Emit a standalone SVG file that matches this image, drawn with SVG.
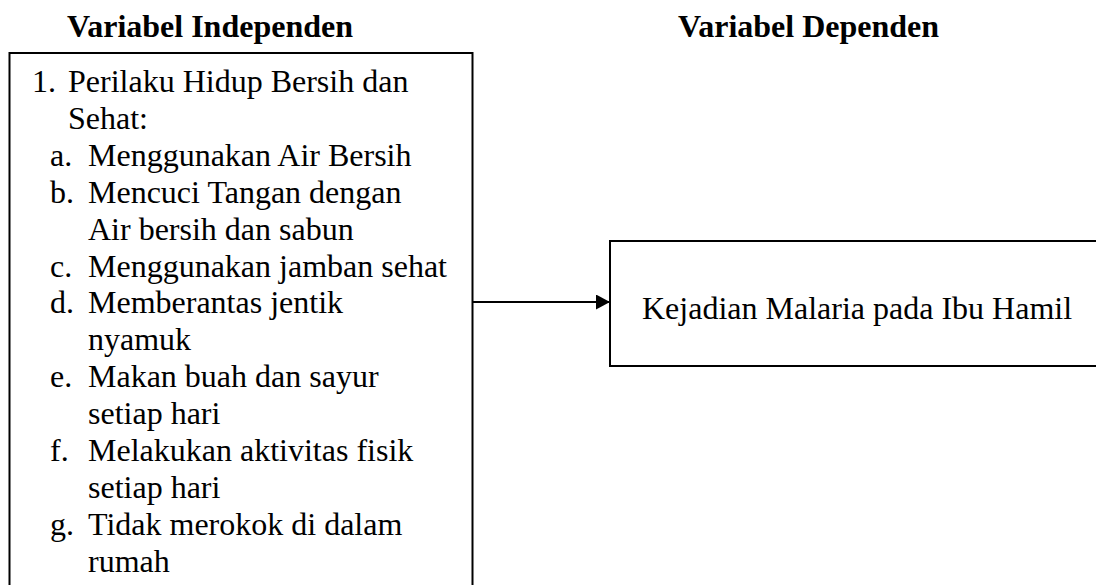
<svg xmlns="http://www.w3.org/2000/svg" width="1096" height="585" viewBox="0 0 1096 585">
<style>
.box{fill:none;stroke:#000;stroke-width:2}
.t{font-family:"Liberation Serif","Times New Roman",serif;font-size:32px;fill:#000}
.h{font-family:"Liberation Serif","Times New Roman",serif;font-size:32px;font-weight:bold;fill:#000}
.c{stroke:#000;stroke-width:2;fill:none}
</style>
<defs>
<marker id="arr" markerUnits="userSpaceOnUse" markerWidth="14" markerHeight="16" refX="14" refY="7.5" orient="auto">
<path d="M0,0 L14,7.5 L0,15 Z" fill="#000"/>
</marker>
</defs>
<rect width="1096" height="585" fill="#fff"/>
<g id="title-independen"><text class="h" x="67" y="37">Variabel Independen</text></g>
<g id="title-dependen"><text class="h" x="678" y="37">Variabel Dependen</text></g>
<g id="node-independen">
<path class="box" d="M9.5,600 V53 H472.5 V600"/>
<text class="t" x="32" y="92">1.</text><text class="t" x="68" y="92">Perilaku Hidup Bersih dan</text>
<text class="t" x="68" y="129">Sehat:</text>
<text class="t" x="50" y="166">a.</text><text class="t" x="88" y="166">Menggunakan Air Bersih</text>
<text class="t" x="50" y="203">b.</text><text class="t" x="88" y="203">Mencuci Tangan dengan</text>
<text class="t" x="88" y="240">Air bersih dan sabun</text>
<text class="t" x="50" y="276.5">c.</text><text class="t" x="88" y="276.5">Menggunakan jamban sehat</text>
<text class="t" x="50" y="313">d.</text><text class="t" x="88" y="313">Memberantas jentik</text>
<text class="t" x="88" y="350">nyamuk</text>
<text class="t" x="50" y="387">e.</text><text class="t" x="88" y="387">Makan buah dan sayur</text>
<text class="t" x="88" y="424">setiap hari</text>
<text class="t" x="50" y="461">f.</text><text class="t" x="88" y="461">Melakukan aktivitas fisik</text>
<text class="t" x="88" y="498">setiap hari</text>
<text class="t" x="50" y="535">g.</text><text class="t" x="88" y="535">Tidak merokok di dalam</text>
<text class="t" x="88" y="572">rumah</text>
</g>
<g id="node-dependen">
<path class="box" d="M1100,241 H610 V366 H1100"/>
<text class="t" x="642" y="318.5">Kejadian Malaria pada Ibu Hamil</text>
</g>
<g id="connectors">
<line class="c" x1="472.5" y1="302" x2="610" y2="302" marker-end="url(#arr)"/>
</g>
</svg>
